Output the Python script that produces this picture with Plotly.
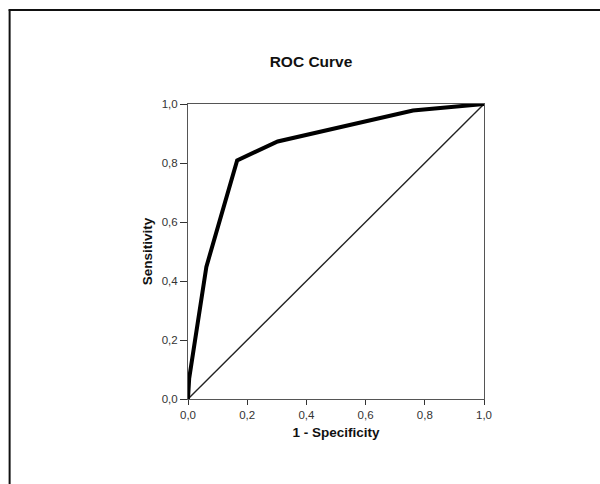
import plotly.graph_objects as go

# ROC curve data (1 - specificity, sensitivity)
fpr = [0.0, 0.004, 0.062, 0.166, 0.303, 0.76, 1.0]
tpr = [0.0, 0.07, 0.448, 0.809, 0.873, 0.978, 1.0]
ref_x = [0.0, 1.0]
ref_y = [0.0, 1.0]
tick_vals = [0.0, 0.2, 0.4, 0.6, 0.8, 1.0]
tick_text = ["0,0", "0,2", "0,4", "0,6", "0,8", "1,0"]

W, H = 600, 484
L, R, T, B = 187.5, 116.3, 103.7, 85
pw, ph = W - L - R, H - T - B

def px_x(p):
    return (p - L) / pw

def px_y(p):
    return (H - B - p) / ph

font = "Arial, Liberation Sans, sans-serif"

fig = go.Figure()
fig.add_trace(go.Scatter(x=ref_x, y=ref_y, mode="lines",
                         line=dict(color="#222222", width=1.4),
                         showlegend=False, hoverinfo="skip", cliponaxis=False))
fig.add_trace(go.Scatter(x=fpr, y=tpr, mode="lines",
                         line=dict(color="#000000", width=4),
                         showlegend=False, cliponaxis=False))

axis_common = dict(range=[0, 1], tickvals=tick_vals, ticktext=tick_text,
                   showgrid=False, zeroline=False, showline=True, mirror=True,
                   linecolor="#555555", linewidth=1, ticks="outside",
                   tickcolor="#333333", tickfont=dict(family=font, size=11.5, color="#333333"))

fig.update_layout(
    width=W, height=H,
    margin=dict(l=L, r=R, t=T, b=B, autoexpand=False),
    paper_bgcolor="white", plot_bgcolor="white",
    title=dict(text="<b>ROC Curve</b>", x=311 / W, xref="container", xanchor="center",
               y=1 - 62 / H, yref="container", yanchor="middle",
               font=dict(family=font, size=15.5, color="#111111")),
    xaxis=dict(**axis_common, ticklen=5,
               title=dict(text="<b>1 - Specificity</b>", standoff=7,
                          font=dict(family=font, size=13.5, color="#111111"))),
    yaxis=dict(**axis_common, ticklen=7,
               title=dict(text="<b>Sensitivity</b>", standoff=5,
                          font=dict(family=font, size=13.5, color="#111111"))),
    shapes=[
        dict(type="line", xref="paper", yref="paper",
             x0=px_x(8), x1=px_x(W), y0=px_y(9.5), y1=px_y(9.5),
             line=dict(color="#111111", width=2)),
        dict(type="line", xref="paper", yref="paper",
             x0=px_x(9), x1=px_x(9), y0=px_y(9), y1=px_y(H),
             line=dict(color="#111111", width=2)),
    ],
)

fig.write_html(
    "out.html",
    config={"displayModeBar": False},
    post_script="document.body.style.margin='0';"
                "document.documentElement.style.overflow='hidden';"
                "document.body.style.overflow='hidden';",
)
